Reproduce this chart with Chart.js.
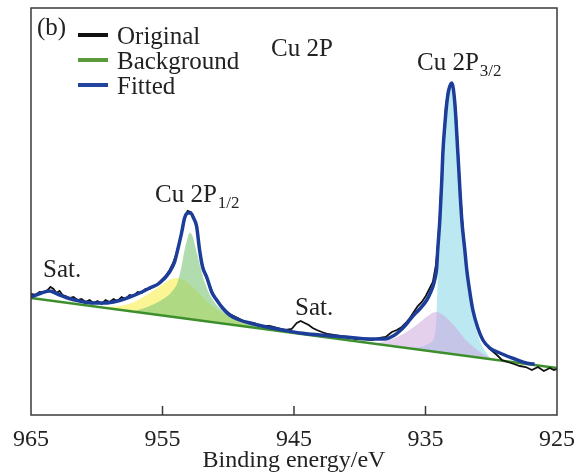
<!DOCTYPE html>
<html>
<head>
<meta charset="utf-8">
<script src="https://cdn.jsdelivr.net/npm/chart.js@4.4.0/dist/chart.umd.min.js"></script>
<style>
html, body { margin: 0; padding: 0; background: #fff; }
</style>
</head>
<body>
<canvas id="xps" width="578" height="475"></canvas>
<script>
// x axis ticks (binding energy, eV)
var xTicks = [965, 955, 945, 935, 925];

// measured spectrum (black)
var origEnergy = [965.00, 964.66, 964.35, 964.05, 963.74, 963.52, 963.29, 963.06, 962.83, 962.60, 962.37,
  962.07, 961.77, 961.46, 961.16, 960.85, 960.55, 960.24, 959.94, 959.63, 959.33,
  959.03, 958.72, 958.42, 958.11, 957.81, 957.50, 957.20, 956.89, 956.59, 956.29,
  955.98, 955.68, 955.37, 955.07, 954.76, 954.46, 954.23, 954.00, 953.78, 953.55,
  953.32, 953.09, 952.86, 952.63, 952.40, 952.18, 951.95, 951.72, 951.42, 951.11,
  950.81, 950.43, 949.89, 949.28, 948.68, 948.07, 947.46, 946.85, 946.24, 945.63,
  945.18, 944.79, 944.49, 944.19, 943.88, 943.58, 943.27, 942.89, 942.44, 941.98,
  941.52, 940.91, 940.30, 939.70, 939.09, 938.48, 938.02, 937.56, 937.18, 936.80,
  936.50, 936.19, 935.89, 935.59, 935.28, 934.98, 934.67, 934.44, 934.22, 934.06,
  933.91, 933.76, 933.61, 933.46, 933.30, 933.15, 933.00, 932.85, 932.69, 932.54,
  932.39, 932.24, 932.09, 931.93, 931.70, 931.48, 931.17, 930.87, 930.49, 930.11,
  929.65, 929.19, 928.74, 928.28, 927.82, 927.37, 926.91, 926.45, 926.00, 925.54,
  925.24, 925.00];
var origCounts = [121, 120, 123, 123, 125, 128, 126, 122, 124, 120, 119,
  117, 118, 115, 116, 113, 115, 112, 114, 111, 115,
  113, 116, 114, 118, 116, 120, 119, 123, 122, 126,
  126, 129, 131, 135, 139, 145, 151, 159, 169, 183,
  196, 204, 203, 198, 188, 165, 149, 139, 130, 120,
  114, 107, 101, 97, 93, 92, 89, 89, 87, 85,
  86, 92, 94, 92, 90, 87, 85, 83, 81, 80,
  79, 78, 76, 76, 75, 77, 78, 83, 85, 88,
  92, 97, 103, 109, 113, 119, 127, 133, 149, 170,
  200, 240, 275, 307, 323, 329, 331, 323, 303, 267,
  230, 200, 175, 153, 130, 110, 93, 82, 72, 66,
  61, 55, 53, 51, 49, 48, 45, 48, 44, 47,
  45, 46];

// background (green line)
var bgEnergy = [965, 925];
var bgCounts = [117, 47];

// fitted envelope (blue)
var fitEnergy = [965.00, 964.20, 963.59, 962.98, 962.22, 961.31, 960.40, 959.41, 958.42, 957.50,
  956.74, 955.98, 955.22, 954.46, 954.08, 953.85, 953.55, 953.32, 953.09, 952.86,
  952.64, 952.41, 952.18, 951.95, 951.64, 951.26, 950.88, 950.43, 949.89, 949.13,
  948.37, 947.08, 945.86, 944.57, 943.04, 941.14, 939.24, 938.10, 937.34, 936.96,
  936.58, 936.20, 935.82, 935.44, 934.90, 934.60, 934.45, 934.30, 934.15, 934.07,
  933.91, 933.76, 933.68, 933.53, 933.38, 933.23, 933.00, 932.77, 932.54, 932.24,
  932.01, 931.86, 931.63, 931.40, 931.02, 930.64, 930.11, 929.35, 928.21, 926.84, 926.70];
var fitCounts = [118, 122, 124, 121, 117, 114, 112, 112, 114, 118,
  122, 127, 132, 143, 153, 165, 182, 197, 202, 202,
  197, 189, 165, 148, 138, 123, 115, 107, 100, 95,
  92, 88, 85, 82, 80, 78, 76, 76, 80, 84,
  89, 95, 101, 106, 115, 123, 128, 135, 147, 165,
  195, 235, 262, 290, 312, 325, 332, 312, 262, 195,
  165, 145, 123, 105, 87, 75, 67, 62, 56, 51, 51];

// fitted components
var yellowEnergy = [959.41, 958.27, 957.35, 956.59, 955.83, 955.07, 954.46, 953.93, 953.39, 952.86,
  952.25, 951.57, 950.81, 949.89, 948.75, 947.46];
var yellowCounts = [108, 109, 112, 117, 123, 130, 135, 137, 135, 130,
  122, 113, 105, 98, 92, 87];

var greenEnergy = [957.12, 955.98, 955.07, 954.31, 953.85, 953.55, 953.32, 953.09, 952.94, 952.71,
  952.48, 952.18, 951.80, 951.26, 950.50, 949.51, 948.37, 947.23, 946.09];
var greenCounts = [104, 109, 115, 123, 133, 149, 165, 177, 182, 179,
  167, 151, 133, 117, 105, 97, 92, 88, 85];

var cyanEnergy = [936.58, 935.44, 934.68, 934.30, 934.15, 934.07, 933.91, 933.76, 933.61, 933.45,
  933.30, 933.15, 933.00, 932.85, 932.70, 932.54, 932.31, 932.08, 931.86, 931.63,
  931.33, 931.02, 930.64, 930.11];
var cyanCounts = [67, 68, 72, 80, 103, 135, 190, 230, 265, 297,
  315, 323, 327, 320, 305, 265, 205, 165, 140, 117,
  95, 80, 68, 57];

var pinkEnergy = [939.09, 937.72, 936.58, 935.59, 934.83, 934.22, 933.76, 933.15, 932.54, 931.93,
  931.25, 930.49, 929.80];
var pinkCounts = [71, 75, 82, 91, 99, 103, 101, 94, 85, 75,
  67, 60, 56];

function toPoints(xs, ys) {
  var pts = [];
  for (var i = 0; i < xs.length; i++) {
    pts.push({x: xs[i], y: ys[i]});
  }
  return pts;
}

var serif = '"Liberation Serif", "Times New Roman", serif';

var xpsDecor = {
  id: 'xpsDecor',
  afterDraw: function(chart) {
    var ctx = chart.ctx;
    var area = chart.chartArea;
    var xScale = chart.scales.x;
    ctx.save();

    // frame
    ctx.strokeStyle = '#3a3a3a';
    ctx.lineWidth = 1.5;
    ctx.strokeRect(area.left, area.top, area.right - area.left, area.bottom - area.top);

    // inward tick marks
    for (var i = 1; i < xTicks.length - 1; i++) {
      var px = xScale.getPixelForValue(xTicks[i]);
      ctx.beginPath();
      ctx.moveTo(px, area.bottom);
      ctx.lineTo(px, area.bottom - 9);
      ctx.stroke();
    }

    ctx.fillStyle = '#222';
    ctx.textBaseline = 'alphabetic';
    ctx.font = '25px ' + serif;
    ctx.fillText('(b)', 37, 35);

    // legend
    var legendNames = ['Original', 'Background', 'Fitted'];
    var legendColors = ['#111111', '#5a9a3a', '#22449f'];
    var legendBase = [44, 69, 94];
    for (var j = 0; j < legendNames.length; j++) {
      ctx.strokeStyle = legendColors[j];
      ctx.lineWidth = 4;
      ctx.beginPath();
      ctx.moveTo(78, legendBase[j] - 9);
      ctx.lineTo(108, legendBase[j] - 9);
      ctx.stroke();
      ctx.fillText(legendNames[j], 117, legendBase[j]);
    }

    // peak labels
    function peakLabel(main, sub, x, y) {
      ctx.font = '25px ' + serif;
      ctx.fillText(main, x, y);
      if (sub) {
        var w = ctx.measureText(main).width;
        ctx.font = '17px ' + serif;
        ctx.fillText(sub, x + w + 1, y + 6);
      }
    }
    peakLabel('Cu 2P', '', 271, 56);
    peakLabel('Cu 2P', '3/2', 417, 70);
    peakLabel('Cu 2P', '1/2', 155, 202);
    peakLabel('Sat.', '', 43, 277);
    peakLabel('Sat.', '', 295, 315);

    ctx.restore();
  }
};

Chart.defaults.color = '#222';
Chart.defaults.font.family = serif;

var chart = new Chart(document.getElementById('xps'), {
  type: 'scatter',
  data: {
    datasets: [
      {
        label: 'Original',
        data: toPoints(origEnergy, origCounts),
        showLine: true,
        borderColor: '#111111',
        borderWidth: 1.8,
        pointRadius: 0,
        fill: false,
        order: 1
      },
      {
        label: 'Background',
        data: toPoints(bgEnergy, bgCounts),
        showLine: true,
        borderColor: '#3d8f2c',
        borderWidth: 2.5,
        pointRadius: 0,
        fill: false,
        order: 2
      },
      {
        label: 'Fitted',
        data: toPoints(fitEnergy, fitCounts),
        showLine: true,
        borderColor: '#1d3d9a',
        borderWidth: 3.5,
        pointRadius: 0,
        cubicInterpolationMode: 'monotone',
        fill: false,
        order: 0
      },
      {
        label: 'Cu 2p1/2 shoulder',
        data: toPoints(yellowEnergy, yellowCounts),
        showLine: true,
        borderColor: 'rgba(0,0,0,0)',
        backgroundColor: 'rgba(250,244,120,0.8)',
        pointRadius: 0,
        cubicInterpolationMode: 'monotone',
        fill: 1,
        order: 6
      },
      {
        label: 'Cu 2p1/2',
        data: toPoints(greenEnergy, greenCounts),
        showLine: true,
        borderColor: 'rgba(0,0,0,0)',
        backgroundColor: 'rgba(125,198,120,0.6)',
        pointRadius: 0,
        cubicInterpolationMode: 'monotone',
        fill: 1,
        order: 5
      },
      {
        label: 'Cu 2p3/2',
        data: toPoints(cyanEnergy, cyanCounts),
        showLine: true,
        borderColor: 'rgba(0,0,0,0)',
        backgroundColor: 'rgba(160,222,236,0.7)',
        pointRadius: 0,
        cubicInterpolationMode: 'monotone',
        fill: 1,
        order: 4
      },
      {
        label: 'Cu 2p3/2 shoulder',
        data: toPoints(pinkEnergy, pinkCounts),
        showLine: true,
        borderColor: 'rgba(0,0,0,0)',
        backgroundColor: 'rgba(205,170,222,0.55)',
        pointRadius: 0,
        cubicInterpolationMode: 'monotone',
        fill: 1,
        order: 3
      }
    ]
  },
  options: {
    responsive: false,
    animation: false,
    layout: { padding: { left: 31, right: 21, top: 8, bottom: 0 } },
    plugins: {
      legend: { display: false },
      tooltip: { enabled: false }
    },
    scales: {
      x: {
        type: 'linear',
        reverse: true,
        min: 925,
        max: 965,
        afterBuildTicks: function(scale) {
          scale.ticks = xTicks.map(function(v) { return {value: v}; });
        },
        afterFit: function(scale) {
          scale.paddingLeft = 0;
          scale.paddingRight = 0;
        },
        grid: { display: false, drawTicks: false },
        border: { display: false },
        ticks: {
          padding: 13,
          color: '#222',
          font: { size: 24, family: serif, lineHeight: 1 }
        },
        title: {
          display: true,
          text: 'Binding energy/eV',
          color: '#222',
          padding: { top: -16, bottom: 2 },
          font: { size: 24, family: serif, lineHeight: 1 }
        }
      },
      y: {
        display: false,
        min: 0,
        max: 407
      }
    }
  },
  plugins: [xpsDecor]
});
</script>
</body>
</html>
